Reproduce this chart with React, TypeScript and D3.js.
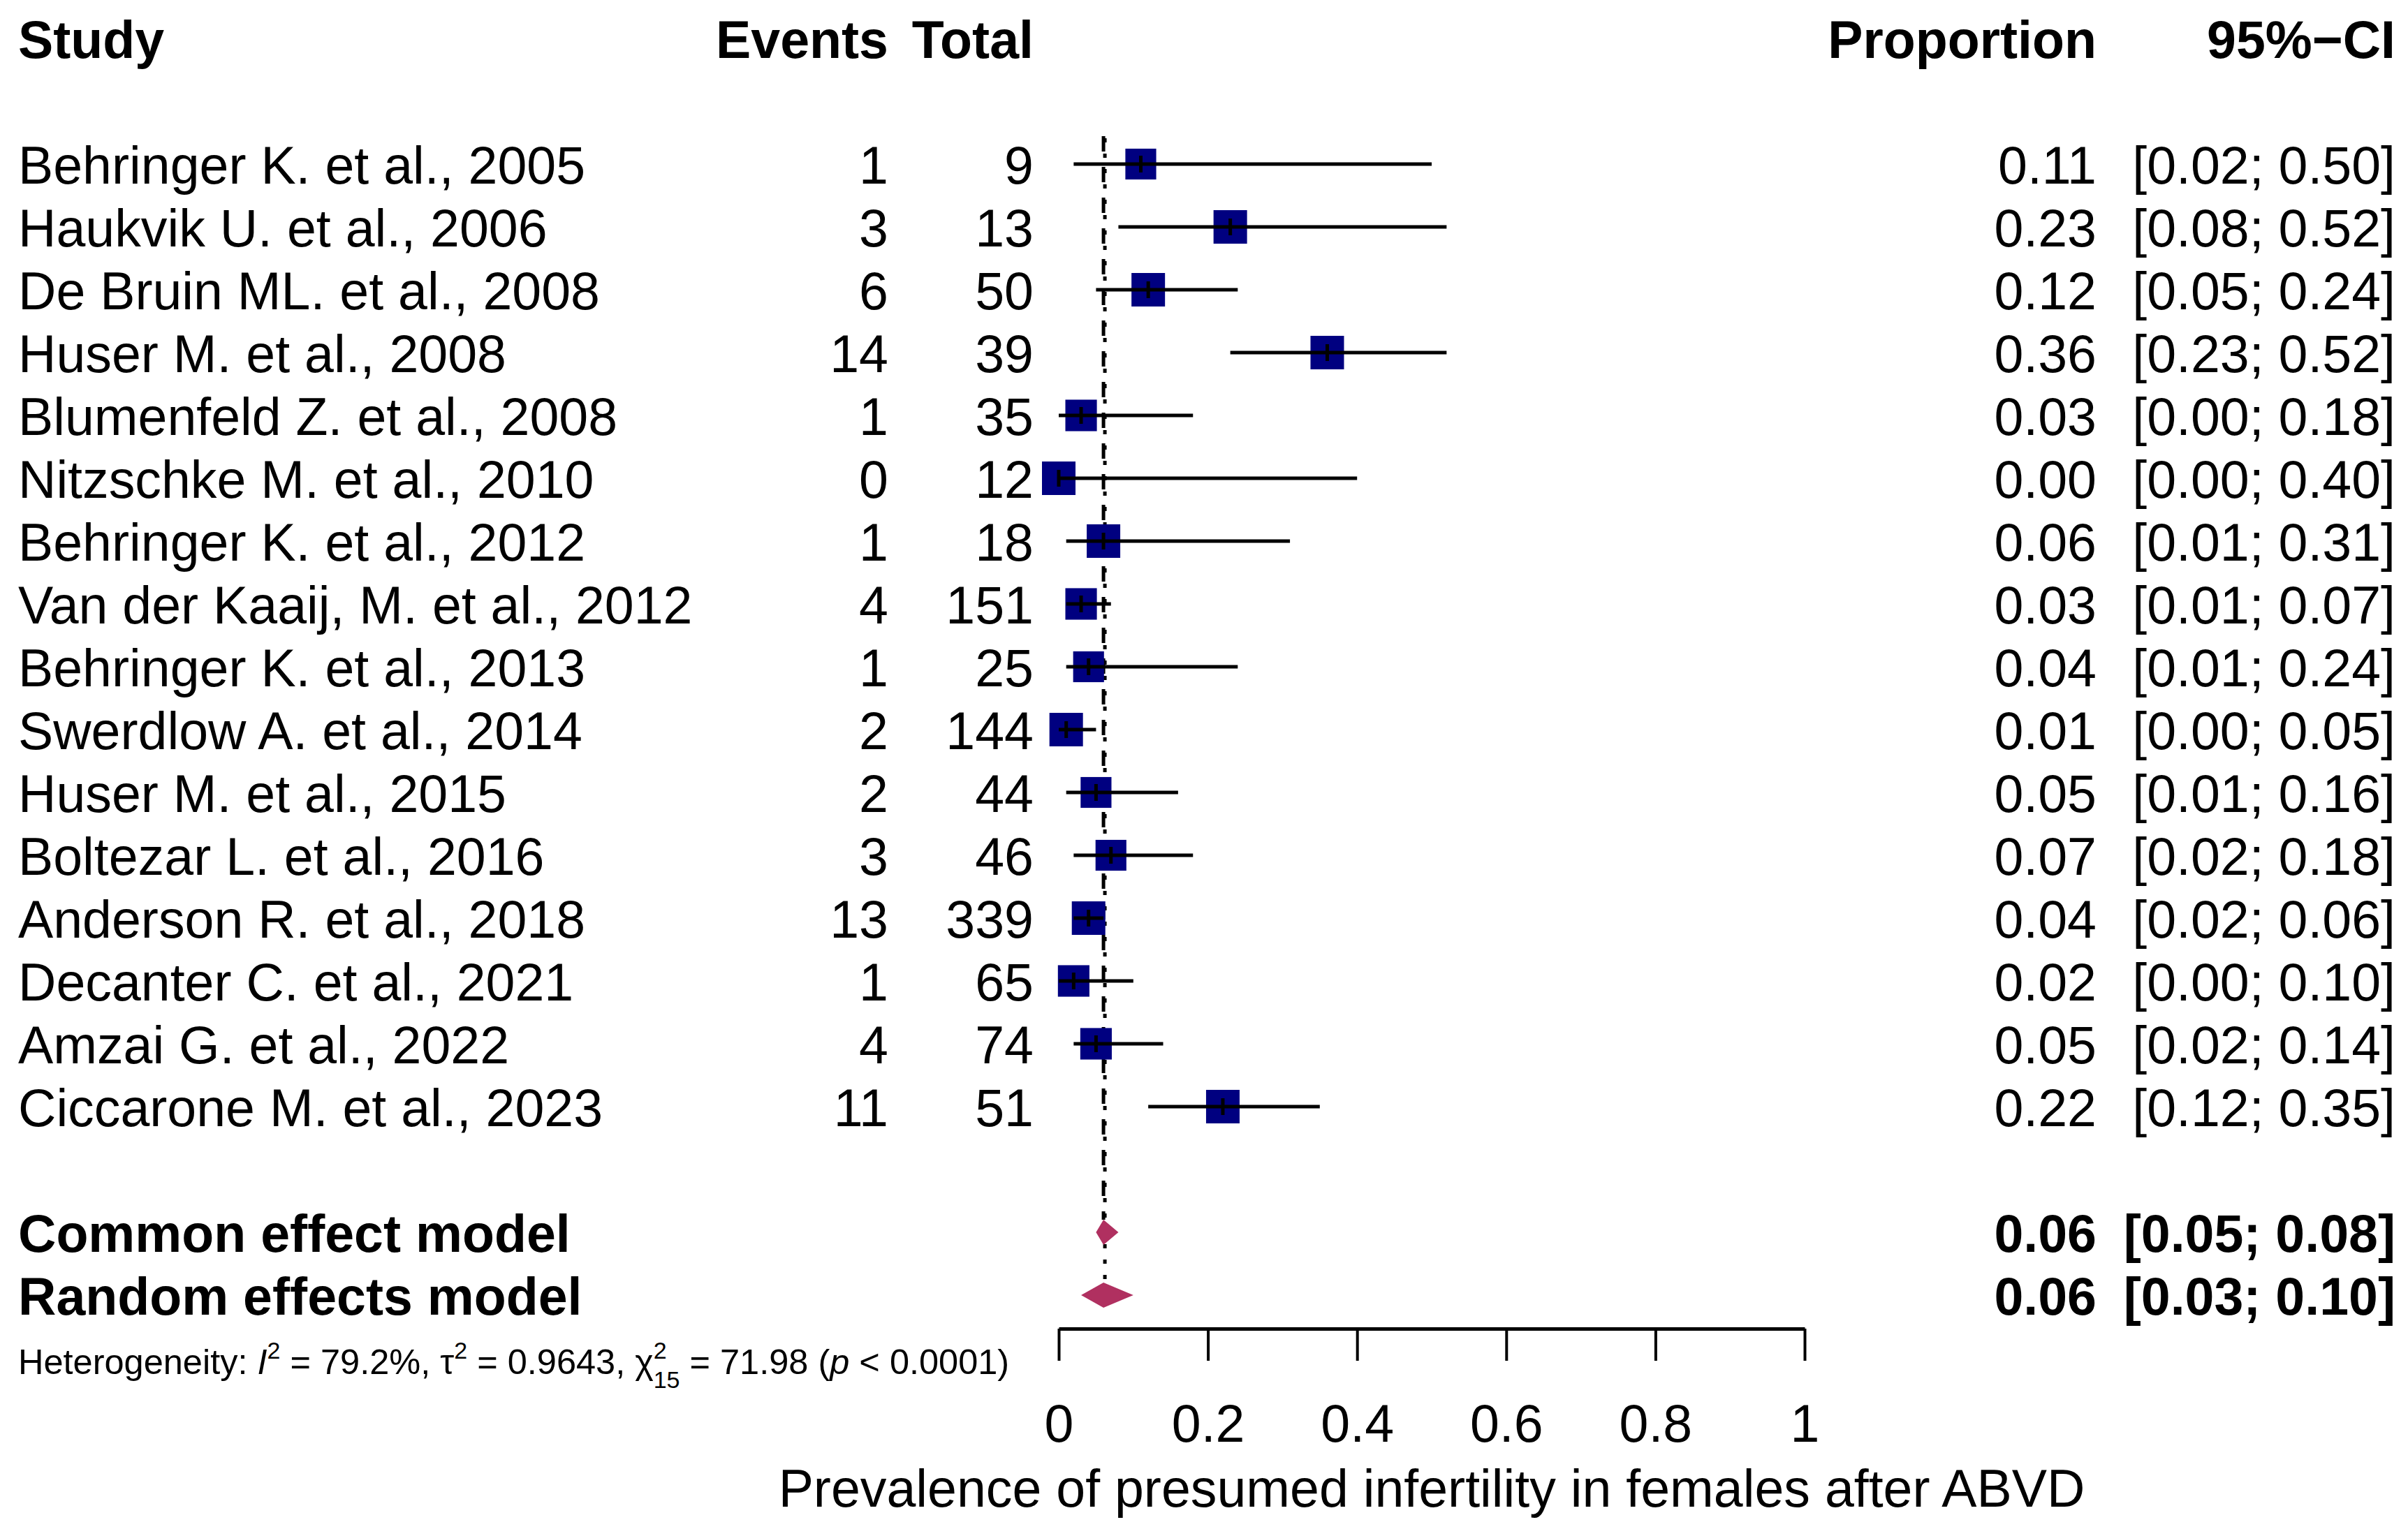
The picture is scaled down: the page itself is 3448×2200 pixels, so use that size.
import React, { useEffect, useRef } from "react";
import * as d3 from "d3";

const studies = [
  "Behringer K. et al., 2005",
  "Haukvik U. et al., 2006",
  "De Bruin ML. et al., 2008",
  "Huser M. et al., 2008",
  "Blumenfeld Z. et al., 2008",
  "Nitzschke M. et al., 2010",
  "Behringer K. et al., 2012",
  "Van der Kaaij, M. et al., 2012",
  "Behringer K. et al., 2013",
  "Swerdlow A. et al., 2014",
  "Huser M. et al., 2015",
  "Boltezar L. et al., 2016",
  "Anderson R. et al., 2018",
  "Decanter C. et al., 2021",
  "Amzai G. et al., 2022",
  "Ciccarone M. et al., 2023",
];
const events = [1, 3, 6, 14, 1, 0, 1, 4, 1, 2, 2, 3, 13, 1, 4, 11];
const totals = [9, 13, 50, 39, 35, 12, 18, 151, 25, 144, 44, 46, 339, 65, 74, 51];
const proportions = [0.11, 0.23, 0.12, 0.36, 0.03, 0.0, 0.06, 0.03, 0.04, 0.01, 0.05, 0.07, 0.04, 0.02, 0.05, 0.22];
const ciLower = [0.02, 0.08, 0.05, 0.23, 0.0, 0.0, 0.01, 0.01, 0.01, 0.0, 0.01, 0.02, 0.02, 0.0, 0.02, 0.12];
const ciUpper = [0.5, 0.52, 0.24, 0.52, 0.18, 0.4, 0.31, 0.07, 0.24, 0.05, 0.16, 0.18, 0.06, 0.1, 0.14, 0.35];
// relative square size (weight)
const squareWeights = [0.92, 1, 1, 1, 0.94, 1, 1, 0.94, 0.92, 1, 0.92, 0.92, 1, 0.94, 0.94, 1];

const summaryLabels = ["Common effect model", "Random effects model"];
const summaryEst = [0.06, 0.06];
const summaryLower = [0.05, 0.03];
const summaryUpper = [0.08, 0.1];

const headers = ["Study", "Events", "Total", "Proportion", "95%\u2212CI"];
const axisTicks = [0, 0.2, 0.4, 0.6, 0.8, 1];
const axisTitle = "Prevalence of presumed infertility in females after ABVD";

const W = 3448;
const H = 2200;
const FONT = "'Liberation Sans', Arial, Helvetica, sans-serif";
const FS = 75.3;
const SQ_COLOR = "#000080";
const DIAMOND_COLOR = "#B03060";

const colStudy = 26;
const colEvents = 1272;
const colTotal = 1480;
const colProp = 3002;
const colCI = 3430;

const x = d3.scaleLinear().domain([0, 1]).range([1516, 2584]);
// row index -> center y
const y = d3.scaleLinear().domain([0, 1]).range([235, 325]);
const sizeScale = d3.scaleLinear().domain([0, 1]).range([0, 48]);

const axisY = 1903;

const fmt = (v: number) => v.toFixed(2);

export default function App() {
  const axisRef = useRef<SVGGElement>(null);

  useEffect(() => {
    if (!axisRef.current) return;
    const g = d3.select(axisRef.current);
    g.selectAll("*").remove();
    g.call(
      d3
        .axisBottom(x)
        .tickValues(axisTicks)
        .tickFormat((d) => String(d))
        .tickSize(46)
        .tickSizeOuter(0)
        .tickPadding(63)
    );
    g.select(".domain").attr("stroke", "#000").attr("stroke-width", 5);
    g.selectAll(".tick line").attr("stroke", "#000").attr("stroke-width", 4);
    g.selectAll(".tick text")
      .attr("font-family", FONT)
      .attr("font-size", FS)
      .attr("fill", "#000");
  }, []);

  const rowBase = (i: number) => y(i) + 28;
  const commonY = y(17);
  const randomY = y(18);
  const diamondH = 18;

  const diamondPath = (est: number, lo: number, hi: number, cy: number) =>
    d3.line()([
      [x(lo), cy],
      [x(est), cy - diamondH],
      [x(hi), cy],
      [x(est), cy + diamondH],
    ]) + "Z";

  return (
    <svg
      width={W}
      height={H}
      style={{ position: "absolute", left: 0, top: 0, background: "#fff" }}
      fontFamily={FONT}
    >
      <rect width={W} height={H} fill="#fff" />
      {/* headers */}
      <g fontWeight="bold" fontSize={FS} fill="#000">
        <text x={colStudy} y={83}>{headers[0]}</text>
        <text x={colEvents} y={83} textAnchor="end">{headers[1]}</text>
        <text x={colTotal} y={83} textAnchor="end">{headers[2]}</text>
        <text x={colProp} y={83} textAnchor="end">{headers[3]}</text>
        <text x={colCI} y={83} textAnchor="end">{headers[4]}</text>
      </g>

      {/* reference lines: common (dashed) and random (dotted) */}
      <line
        x1={x(summaryEst[0])}
        x2={x(summaryEst[0])}
        y1={195}
        y2={commonY - diamondH}
        stroke="#000"
        strokeWidth={5}
        strokeDasharray="22,22"
      />
      <line
        x1={x(summaryEst[1]) + 2}
        x2={x(summaryEst[1]) + 2}
        y1={195}
        y2={randomY - diamondH}
        stroke="#000"
        strokeWidth={5}
        strokeDasharray="6,16"
        strokeDashoffset={-3}
      />

      {/* study rows */}
      {studies.map((s, i) => {
        const cy = y(i);
        const sz = sizeScale(squareWeights[i]);
        return (
          <g key={s}>
            <text x={colStudy} y={rowBase(i)} fontSize={FS}>{s}</text>
            <text x={colEvents} y={rowBase(i)} fontSize={FS} textAnchor="end">{events[i]}</text>
            <text x={colTotal} y={rowBase(i)} fontSize={FS} textAnchor="end">{totals[i]}</text>
            <text x={colProp} y={rowBase(i)} fontSize={FS} textAnchor="end">{fmt(proportions[i])}</text>
            <text x={colCI} y={rowBase(i)} fontSize={FS} textAnchor="end">
              {`[${fmt(ciLower[i])}; ${fmt(ciUpper[i])}]`}
            </text>
            <rect
              x={x(proportions[i]) - sz / 2}
              y={cy - sz / 2}
              width={sz}
              height={sz}
              fill={SQ_COLOR}
            />
            <line x1={x(ciLower[i])} x2={x(ciUpper[i])} y1={cy} y2={cy} stroke="#000" strokeWidth={5} />
            <line
              x1={x(proportions[i])}
              x2={x(proportions[i])}
              y1={cy - 12}
              y2={cy + 12}
              stroke="#000"
              strokeWidth={5}
            />
          </g>
        );
      })}

      {/* summary rows */}
      {summaryLabels.map((lab, k) => {
        const cy = k === 0 ? commonY : randomY;
        const base = cy + 28;
        return (
          <g key={lab}>
            <text x={colStudy} y={base} fontSize={FS} fontWeight="bold">{lab}</text>
            <text x={colProp} y={base} fontSize={FS} fontWeight="bold" textAnchor="end">
              {fmt(summaryEst[k])}
            </text>
            <text x={colCI} y={base} fontSize={FS} fontWeight="bold" textAnchor="end">
              {`[${fmt(summaryLower[k])}; ${fmt(summaryUpper[k])}]`}
            </text>
            <path d={diamondPath(summaryEst[k], summaryLower[k], summaryUpper[k], cy)} fill={DIAMOND_COLOR} />
          </g>
        );
      })}

      {/* heterogeneity */}
      <text x={colStudy} y={1968} fontSize={50.5}>
        <tspan>Heterogeneity: </tspan>
        <tspan fontStyle="italic">I</tspan>
        <tspan fontSize={34} dy={-22}>2</tspan>
        <tspan dy={22}> = 79.2%, τ</tspan>
        <tspan fontSize={34} dy={-22}>2</tspan>
        <tspan dy={22}> = 0.9643, χ</tspan>
        <tspan fontSize={34} dy={-22}>2</tspan>
        <tspan fontSize={34} dx={-19} dy={42}>15</tspan>
        <tspan dy={-20}> = 71.98 (</tspan>
        <tspan fontStyle="italic">p</tspan>
        <tspan> &lt; 0.0001)</tspan>
      </text>

      {/* axis */}
      <g ref={axisRef} transform={`translate(0,${axisY})`} />
      <text x={(x(0) + x(1)) / 2} y={2158} fontSize={FS} textAnchor="middle">{axisTitle}</text>
    </svg>
  );
}
